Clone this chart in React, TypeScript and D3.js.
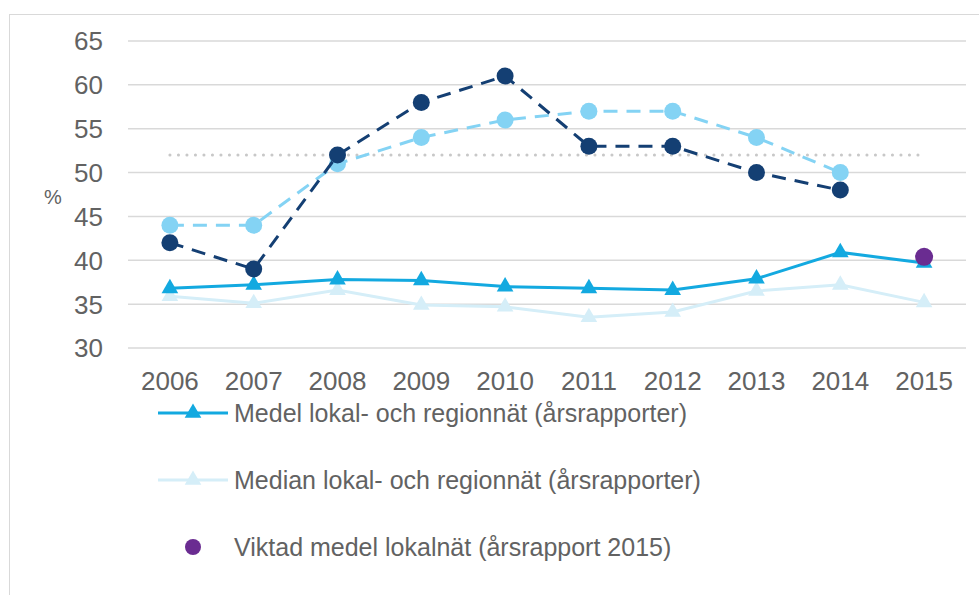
import React from 'react';
import * as d3 from 'd3';

const years = ['2006', '2007', '2008', '2009', '2010', '2011', '2012', '2013', '2014', '2015'];
const darkDashed = [42, 39, 52, 58, 61, 53, 53, 50, 48];
const lightDashed = [44, 44, 51, 54, 56, 57, 57, 54, 50];
const medel = [36.8, 37.2, 37.8, 37.7, 37.0, 36.8, 36.6, 37.9, 40.9, 39.7];
const median = [35.9, 35.1, 36.6, 34.9, 34.7, 33.5, 34.1, 36.5, 37.2, 35.2];
const viktad = [{ year: '2015', value: 40.4 }];
const reference = 52;
const yTicks = [30, 35, 40, 45, 50, 55, 60, 65];
const legendLabels = [
  'Medel lokal- och regionnät (årsrapporter)',
  'Median lokal- och regionnät (årsrapporter)',
  'Viktad medel lokalnät (årsrapport 2015)'
];

const FONT = '"Liberation Sans", Arial, sans-serif';
const TEXT = '#626262';

export default function App() {
  const width = 979;
  const height = 595;
  const x = d3.scaleBand().domain(years).range([128, 966]);
  const cx = (y: string) => (x(y) as number) + x.bandwidth() / 2;
  const y = d3.scaleLinear().domain([30, 65]).range([348, 41]);

  const line = d3
    .line<number>()
    .x((d, i) => cx(years[i]))
    .y(d => y(d));

  const tri = d3.symbol().type(d3.symbolTriangle).size(120);
  const triPath = tri() as string;

  return (
    <svg width={width} height={height} style={{ position: 'absolute', left: 0, top: 0 }}>
      <rect x={0} y={0} width={width} height={height} fill="#fff" />
      <rect x={9.5} y={14.5} width={width} height={height} fill="none" stroke="#d9d9d9" strokeWidth={1} />
      {yTicks.map(t => (
        <g key={t}>
          <line x1={128} x2={966} y1={y(t)} y2={y(t)} stroke="#d9d9d9" strokeWidth={1.5} />
          <text x={103} y={y(t)} dy="0.36em" textAnchor="end" fontFamily={FONT} fontSize={26} fill={TEXT}>
            {t}
          </text>
        </g>
      ))}
      <text x={53} y={197} dy="0.36em" textAnchor="middle" fontFamily={FONT} fontSize={20} fill={TEXT}>
        %
      </text>
      {years.map(yr => (
        <text key={yr} x={cx(yr)} y={381} dy="0.36em" textAnchor="middle" fontFamily={FONT} fontSize={26} fill={TEXT}>
          {yr}
        </text>
      ))}

      <line
        x1={cx(years[0])}
        x2={cx(years[years.length - 1])}
        y1={y(reference)}
        y2={y(reference)}
        stroke="#c8c8c8"
        strokeWidth={3}
        strokeDasharray="0.1 8.4"
        strokeLinecap="round"
      />

      <path d={line(median) as string} fill="none" stroke="#d5eef8" strokeWidth={3} />
      {median.map((v, i) => (
        <path key={i} d={triPath} transform={`translate(${cx(years[i])},${y(v)})`} fill="#d5eef8" />
      ))}
      <path d={line(medel) as string} fill="none" stroke="#13a9e0" strokeWidth={3} />
      {medel.map((v, i) => (
        <path key={i} d={triPath} transform={`translate(${cx(years[i])},${y(v)})`} fill="#13a9e0" />
      ))}

      <path d={line(lightDashed) as string} fill="none" stroke="#84d3f4" strokeWidth={3} strokeDasharray="14 9" />
      {lightDashed.map((v, i) => (
        <circle key={i} cx={cx(years[i])} cy={y(v)} r={8.5} fill="#84d3f4" />
      ))}
      <path d={line(darkDashed) as string} fill="none" stroke="#143f73" strokeWidth={3} strokeDasharray="14 9" />
      {darkDashed.map((v, i) => (
        <circle key={i} cx={cx(years[i])} cy={y(v)} r={8.5} fill="#143f73" />
      ))}
      {viktad.map(d => (
        <circle key={d.year} cx={cx(d.year)} cy={y(d.value)} r={9} fill="#6a2c91" />
      ))}

      {legendLabels.map((label, i) => {
        const ly = 413 + i * 67;
        return (
          <g key={label}>
            {i < 2 && (
              <>
                <line x1={158} x2={228} y1={ly} y2={ly} stroke={i === 0 ? '#13a9e0' : '#d5eef8'} strokeWidth={3} />
                <path d={triPath} transform={`translate(193,${ly})`} fill={i === 0 ? '#13a9e0' : '#d5eef8'} />
              </>
            )}
            {i === 2 && <circle cx={193} cy={ly} r={8} fill="#6a2c91" />}
            <text x={234} y={ly} dy="0.36em" fontFamily={FONT} fontSize={25} fill={TEXT}>
              {label}
            </text>
          </g>
        );
      })}
    </svg>
  );
}
